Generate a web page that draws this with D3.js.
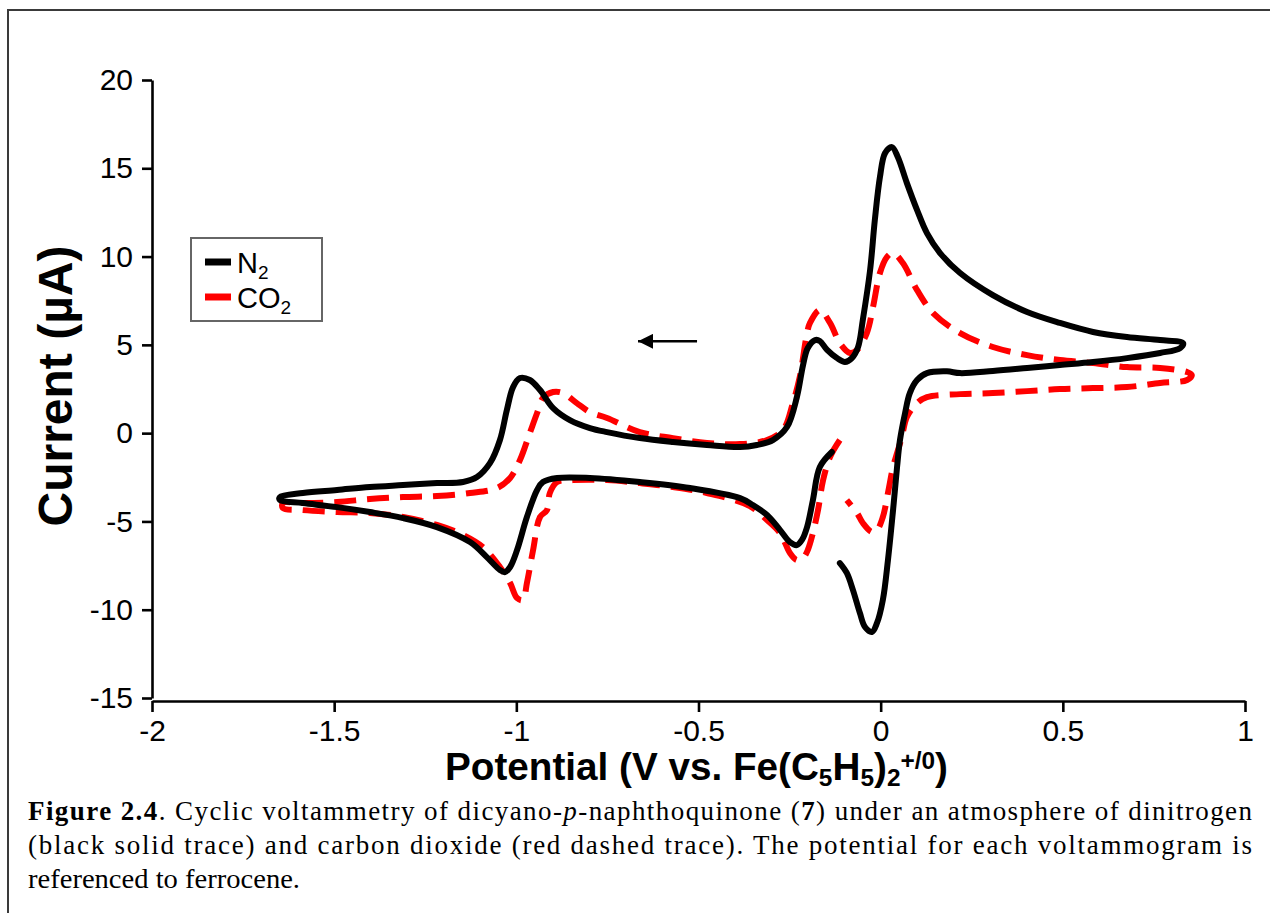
<!DOCTYPE html>
<html lang="en">
<head>
<meta charset="UTF-8"/>
<title>Figure 2.4 Cyclic voltammetry</title>
<script src="https://d3js.org/d3.v7.min.js"></script>
<style>
  body { margin: 0; background: #fff; }
  svg { display: block; }
  .tick text { font-family: "Liberation Sans", Arial, Helvetica, sans-serif; font-size: 30px; fill: #000; }
</style>
</head>
<body>
<script>
// ---------- data (V vs Fc, uA) ----------
var n2Potential = [-0.134,-0.167,-0.186,-0.202,-0.216,-0.230,-0.249,-0.276,-0.312,-0.351,
  -0.386,-0.523,-0.661,-0.798,-0.888,-0.927,-0.943,-0.971,-0.998,-1.017,
  -1.031,-1.045,-1.081,-1.127,-1.218,-1.311,-1.402,-1.492,-1.586,-1.649,
  -1.649,-1.586,-1.492,-1.402,-1.311,-1.218,-1.146,-1.108,-1.072,-1.045,
  -1.026,-1.009,-0.990,-0.963,-0.935,-0.899,-0.853,-0.798,-0.751,-0.661,
  -0.570,-0.477,-0.386,-0.340,-0.296,-0.257,-0.230,-0.213,-0.200,-0.180,
  -0.167,-0.147,-0.120,-0.098,-0.079,-0.062,-0.049,-0.029,-0.016,-0.002,
  0.012,0.031,0.047,0.072,0.100,0.127,0.163,0.218,0.308,0.402,
  0.492,0.583,0.676,0.767,0.830,
  0.822,0.767,0.676,0.583,0.492,0.402,0.308,0.218,0.182,0.127,
  0.100,0.080,0.067,0.053,0.045,0.034,0.020,0.006,-0.010,-0.024,
  -0.043,-0.057,-0.076,-0.093,-0.112];
var n2Current = [-1.07,-1.92,-3.79,-5.32,-6.05,-6.34,-6.17,-5.49,-4.64,-4.07,
  -3.68,-3.11,-2.77,-2.54,-2.54,-2.77,-3.22,-4.75,-6.62,-7.58,
  -7.87,-7.75,-7.02,-6.17,-5.32,-4.81,-4.47,-4.19,-3.96,-3.79,
  -3.62,-3.39,-3.22,-3.05,-2.94,-2.83,-2.77,-2.49,-1.69,-0.39,
  1.31,2.61,3.12,3.01,2.44,1.42,0.74,0.29,0.06,-0.28,
  -0.50,-0.67,-0.79,-0.67,-0.39,0.35,2.04,3.86,4.82,5.27,
  5.22,4.71,4.25,4.03,4.25,4.88,6.41,9.24,12.07,14.50,
  15.86,16.20,15.64,14.16,12.63,11.33,10.20,9.07,7.82,6.86,
  6.24,5.73,5.44,5.27,5.10,
  4.82,4.54,4.25,4.03,3.86,3.69,3.52,3.40,3.50,3.40,
  3.01,2.27,1.14,-0.39,-1.92,-4.36,-7.19,-9.45,-10.75,-11.26,
  -10.98,-10.19,-8.89,-7.92,-7.36];

var co2Potential = [-0.112,-0.139,-0.158,-0.172,-0.186,-0.200,-0.213,-0.230,-0.249,-0.276,
  -0.312,-0.362,-0.477,-0.570,-0.661,-0.751,-0.845,-0.888,-0.908,
  -0.916,-0.935,-0.954,-0.971,-0.982,-0.998,-1.017,-1.045,-1.092,-1.146,
  -1.218,-1.311,-1.402,-1.492,-1.586,-1.641,
  -1.641,-1.586,-1.492,-1.402,-1.311,-1.218,-1.127,-1.053,-1.017,-0.990,
  -0.963,-0.943,-0.927,-0.899,-0.872,-0.834,-0.798,-0.751,-0.661,-0.570,
  -0.477,-0.386,-0.312,-0.268,-0.241,-0.222,-0.202,-0.194,-0.167,-0.139,
  -0.112,-0.084,-0.065,-0.038,-0.021,-0.002,0.017,0.034,0.061,0.100,
  0.144,0.218,0.308,0.402,0.492,0.583,0.676,0.767,0.841,0.854,
  0.841,0.767,0.676,0.583,0.492,0.402,0.308,0.218,0.127,0.100,
  0.072,0.058,0.045,0.034,0.020,0.006,-0.010,-0.024,-0.049,-0.065,
  -0.093];
var co2Current = [-0.39,-1.35,-2.66,-4.36,-5.66,-6.62,-7.07,-7.19,-6.79,-5.66,
  -4.92,-4.10,-3.39,-3.05,-2.83,-2.66,-2.66,-2.77,-3.39,
  -4.36,-4.75,-6.62,-8.49,-9.45,-9.34,-8.49,-7.58,-6.45,-5.77,
  -5.20,-4.75,-4.52,-4.47,-4.36,-4.24,
  -3.96,-3.96,-3.90,-3.73,-3.62,-3.56,-3.39,-3.11,-2.54,-1.52,
  0.01,1.14,1.99,2.33,2.27,1.70,1.19,0.86,0.06,-0.28,
  -0.56,-0.62,-0.39,0.18,1.70,3.18,5.67,6.24,6.97,6.24,
  5.10,4.54,4.71,5.67,7.14,9.07,9.97,10.20,9.63,8.10,
  6.80,5.67,4.88,4.42,4.14,3.97,3.74,3.69,3.46,3.29,
  3.01,2.84,2.61,2.55,2.50,2.38,2.27,2.21,2.04,1.70,
  0.91,-0.22,-1.13,-1.92,-3.39,-4.75,-5.49,-5.60,-5.09,-4.52,
  -3.79];

var xTicks = [-2,-1.5,-1,-0.5,0,0.5,1];
var yTicks = [-15,-10,-5,0,5,10,15,20];
var seriesNames = ["N2","CO2"];
var arrowFrom = [-0.504,5.2];   // scan direction arrow
var arrowTo = [-0.666,5.2];

// ---------- layout ----------
var w = 1270;
var h = 913;
var font = '"Liberation Sans", Arial, Helvetica, sans-serif';

var xScale = d3.scaleLinear().domain([-2,1]).range([152,1245]);
var yScale = d3.scaleLinear().domain([-15,20]).range([698,80]);

var svg = d3.select("body")
            .append("svg")
            .attr("width",w)
            .attr("height",h);

// outer frame
svg.append("rect")
   .attr("x",8).attr("y",10)
   .attr("width",1300).attr("height",940)
   .attr("fill","none")
   .attr("stroke","#3a3a3a")
   .attr("stroke-width",2);

//------------ axes ------------
// plain hyphen for negatives, as in the original
var plain = function(d){ return String(d); };

var yAxis = d3.axisLeft(yScale)
              .tickValues(yTicks)
              .tickSize(10)
              .tickSizeOuter(0)
              .tickPadding(9)
              .tickFormat(plain);
var xAxis = d3.axisBottom(xScale)
              .tickValues(xTicks)
              .tickSize(11)
              .tickSizeOuter(0)
              .tickPadding(8)
              .tickFormat(plain);

svg.append("g").attr("transform","translate(152,0)").call(yAxis);
svg.append("g").attr("transform","translate(0,701)").call(xAxis);
svg.selectAll(".domain, .tick line")
   .attr("stroke","#000")
   .attr("stroke-width",2.6);

//------------ traces ------------
var line = d3.line()
             .x(function(d){ return xScale(d[0]); })
             .y(function(d){ return yScale(d[1]); })
             .curve(d3.curveCatmullRom.alpha(0.5));

var co2Data = d3.zip(co2Potential, co2Current);
var n2Data = d3.zip(n2Potential, n2Current);

svg.append("path")
   .datum(co2Data)
   .attr("d",line)
   .attr("fill","none")
   .attr("stroke","#ff0000")
   .attr("stroke-width",6)
   .attr("stroke-dasharray","22,11")
   .attr("stroke-linejoin","round");

svg.append("path")
   .datum(n2Data)
   .attr("d",line)
   .attr("fill","none")
   .attr("stroke","#000")
   .attr("stroke-width",6)
   .attr("stroke-linejoin","round")
   .attr("stroke-linecap","round");

// arrow
svg.append("defs").append("marker")
   .attr("id","head")
   .attr("viewBox","0 0 10 10")
   .attr("refX",10).attr("refY",5)
   .attr("markerWidth",6).attr("markerHeight",6)
   .attr("markerUnits","strokeWidth")
   .attr("orient","auto")
   .append("path")
   .attr("d","M0,0 L10,5 L0,10 z")
   .attr("fill","#000");

svg.append("line")
   .attr("x1",xScale(arrowFrom[0])).attr("y1",yScale(arrowFrom[1]))
   .attr("x2",xScale(arrowTo[0])).attr("y2",yScale(arrowTo[1]))
   .attr("stroke","#000")
   .attr("stroke-width",2.5)
   .attr("marker-end","url(#head)");

//------------ legend ------------
var legend = svg.append("g");
legend.append("rect")
      .attr("x",191).attr("y",238)
      .attr("width",131).attr("height",83)
      .attr("fill","#fff")
      .attr("stroke","#666")
      .attr("stroke-width",2);

var legendColors = ["#000","#ff0000"];
seriesNames.forEach(function(name,i){
    var yy = 262 + i*35;
    legend.append("line")
          .attr("x1",205).attr("x2",231)
          .attr("y1",yy).attr("y2",yy)
          .attr("stroke",legendColors[i])
          .attr("stroke-width",7);
    var t = legend.append("text")
          .attr("x",237).attr("y",yy+11)
          .attr("font-family",font)
          .attr("font-size",29);
    t.append("tspan").text(name.slice(0,-1));
    t.append("tspan").attr("font-size",19).attr("dy",6).text(name.slice(-1));
});

//------------ axis titles ------------
svg.append("text")
   .attr("transform","translate(72,386) rotate(-90)")
   .attr("text-anchor","middle")
   .attr("font-family",font)
   .attr("font-weight","bold")
   .attr("font-size",48)
   .text("Current (\u00b5A)");

var xt = svg.append("text")
   .attr("x",445).attr("y",780)
   .attr("font-family",font)
   .attr("font-weight","bold")
   .attr("font-size",38)
   .attr("textLength",503).attr("lengthAdjust","spacingAndGlyphs");
xt.append("tspan").text("Potential (V vs. Fe(C");
xt.append("tspan").attr("font-size",24).attr("dy",6).text("5");
xt.append("tspan").attr("dy",-6).text("H");
xt.append("tspan").attr("font-size",24).attr("dy",6).text("5");
xt.append("tspan").attr("dy",-6).text(")");
xt.append("tspan").attr("font-size",24).attr("dy",6).text("2");
xt.append("tspan").attr("font-size",24).attr("dy",-17).text("+/0");
xt.append("tspan").attr("dy",11).text(")");

//------------ caption ------------
var serif = '"Liberation Serif", "Times New Roman", serif';
var c1 = svg.append("text")
   .attr("x",28).attr("y",820)
   .attr("font-family",serif).attr("font-size",27)
   .attr("textLength",1224).attr("lengthAdjust","spacing");
c1.append("tspan").attr("font-weight","bold").text("Figure 2.4");
c1.append("tspan").text(". Cyclic voltammetry of dicyano-");
c1.append("tspan").attr("font-style","italic").text("p");
c1.append("tspan").text("-naphthoquinone (");
c1.append("tspan").attr("font-weight","bold").text("7");
c1.append("tspan").text(") under an atmosphere of dinitrogen");

svg.append("text")
   .attr("x",28).attr("y",854)
   .attr("font-family",serif).attr("font-size",27)
   .attr("textLength",1224).attr("lengthAdjust","spacing")
   .text("(black solid trace) and carbon dioxide (red dashed trace). The potential for each voltammogram is");

svg.append("text")
   .attr("x",28).attr("y",888)
   .attr("font-family",serif).attr("font-size",27)
   .attr("textLength",272).attr("lengthAdjust","spacingAndGlyphs")
   .text("referenced to ferrocene.");
</script>
</body>
</html>
